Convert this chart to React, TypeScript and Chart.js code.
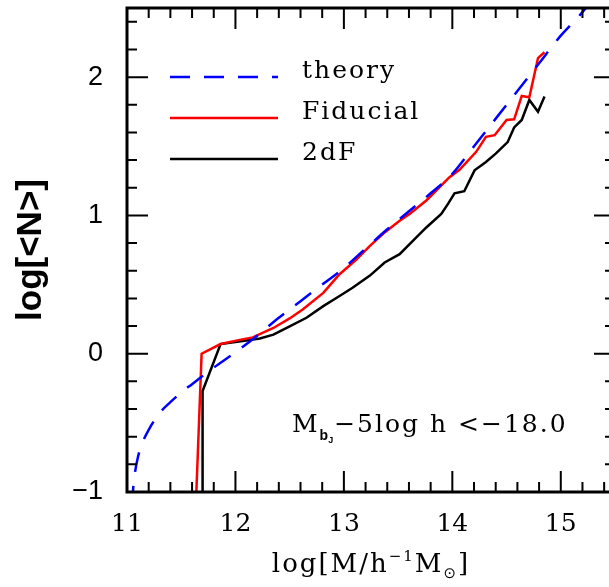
import React, { useEffect, useRef } from "react";
import { Chart, registerables } from "chart.js";

Chart.register(...registerables);

// Halo mass (log M in h^-1 Msun) and mean occupation log<N>
const theoryMass = [11.05, 11.055, 11.07, 11.1, 11.15, 11.2, 11.3, 11.4, 11.5, 11.6, 11.8, 12.0, 12.2, 12.4, 12.6, 12.8, 13.0, 13.2, 13.4, 13.6, 13.8, 14.0, 14.2, 14.4, 14.6, 14.8, 15.0, 15.2, 15.3];
const theoryLogN = [-1.1, -1.0, -0.88, -0.75, -0.63, -0.55, -0.43, -0.35, -0.28, -0.22, -0.1, 0.01, 0.13, 0.26, 0.38, 0.5, 0.62, 0.76, 0.9, 1.03, 1.16, 1.3, 1.5, 1.7, 1.9, 2.1, 2.3, 2.47, 2.57];

const fiducialMass = [11.63, 11.688, 11.863, 12.04, 12.16, 12.35, 12.5, 12.62, 12.81, 12.96, 13.115, 13.24, 13.376, 13.514, 13.606, 13.76, 13.974, 14.066, 14.22, 14.31, 14.39, 14.5, 14.57, 14.64, 14.71, 14.79, 14.85];
const fiducialLogN = [-1.2, 0.0, 0.07, 0.1, 0.118, 0.186, 0.255, 0.32, 0.44, 0.575, 0.68, 0.78, 0.877, 0.962, 1.011, 1.108, 1.277, 1.33, 1.46, 1.568, 1.58, 1.69, 1.695, 1.864, 1.854, 2.138, 2.18];

const twodfMass = [11.697, 11.697, 11.863, 12.1, 12.225, 12.35, 12.5, 12.655, 12.81, 12.96, 13.08, 13.24, 13.376, 13.514, 13.606, 13.76, 13.898, 13.96, 14.02, 14.11, 14.205, 14.31, 14.4, 14.51, 14.57, 14.64, 14.71, 14.79, 14.85];
const twodfLogN = [-1.2, -0.27, 0.07, 0.095, 0.11, 0.138, 0.198, 0.26, 0.344, 0.417, 0.477, 0.565, 0.66, 0.72, 0.793, 0.913, 1.01, 1.084, 1.16, 1.175, 1.326, 1.386, 1.447, 1.53, 1.636, 1.69, 1.835, 1.75, 1.86];

const seriesLabels = ["theory", "Fiducial", "2dF"];
const seriesColors = ["#0000ff", "#ff0000", "#000000"];

const xTickValues = [11, 12, 13, 14, 15];
const yTickValues = [-1, 0, 1, 2];

const serif = '"DejaVu Serif", serif';
const sans = '"Liberation Sans", Arial, sans-serif';

const toPoints = (xs: number[], ys: number[]) => xs.map((x, i) => ({ x, y: ys[i] }));

function spaced(ctx: CanvasRenderingContext2D, px: string) {
  (ctx as any).letterSpacing = px;
}

const decorPlugin = {
  id: "decor",
  beforeDraw(chart: any) {
    const { ctx, width, height } = chart;
    ctx.save();
    ctx.fillStyle = "#ffffff";
    ctx.fillRect(0, 0, width, height);
    ctx.restore();
  },
  afterDraw(chart: any) {
    const { ctx, chartArea: a, scales } = chart;
    const xs = scales.x;
    const ys = scales.y;
    ctx.save();
    ctx.strokeStyle = "#000";
    ctx.lineCap = "butt";
    ctx.setLineDash([]);

    // inward ticks on all four sides
    ctx.lineWidth = 2;
    ctx.beginPath();
    for (let i = 0; i <= 22; i++) {
      const v = 11 + i * 0.2;
      const major = Math.abs(v - Math.round(v)) < 1e-6;
      const len = major ? 21 : 10;
      const p = xs.getPixelForValue(v);
      ctx.moveTo(p, a.bottom);
      ctx.lineTo(p, a.bottom - len);
      ctx.moveTo(p, a.top);
      ctx.lineTo(p, a.top + len);
    }
    for (let i = 0; i <= 17; i++) {
      const v = -1 + i * 0.2;
      const major = Math.abs(v - Math.round(v)) < 1e-6;
      const len = major ? 21 : 10;
      const p = ys.getPixelForValue(v);
      ctx.moveTo(a.left, p);
      ctx.lineTo(a.left + len, p);
      ctx.moveTo(a.right, p);
      ctx.lineTo(a.right - len, p);
    }
    ctx.stroke();

    // frame
    ctx.lineWidth = 3;
    ctx.strokeRect(a.left, a.top, a.right - a.left, a.bottom - a.top);

    // legend
    const legendX0 = a.left + 43;
    const legendX1 = a.left + 151;
    const legendRows = [a.top + 69, a.top + 110, a.top + 151];
    ctx.lineWidth = 2.5;
    seriesLabels.forEach((label, i) => {
      const yy = legendRows[i];
      ctx.strokeStyle = seriesColors[i];
      ctx.setLineDash(i === 0 ? [20, 14] : []);
      ctx.beginPath();
      ctx.moveTo(legendX0, yy);
      ctx.lineTo(legendX1, yy);
      ctx.stroke();
      ctx.setLineDash([]);
      ctx.fillStyle = "#000";
      ctx.font = `25px ${serif}`;
      spaced(ctx, "2px");
      ctx.textAlign = "left";
      ctx.textBaseline = "alphabetic";
      ctx.fillText(label, legendX0 + 132, yy + 1);
      spaced(ctx, "0px");
    });

    // luminosity threshold note
    ctx.fillStyle = "#000";
    ctx.textAlign = "left";
    ctx.textBaseline = "alphabetic";
    let tx = 292;
    const ty = 432;
    ctx.font = `25px ${serif}`;
    spaced(ctx, "2px");
    ctx.fillText("M", tx, ty);
    tx += ctx.measureText("M").width;
    spaced(ctx, "0px");
    ctx.font = `bold 14px ${sans}`;
    ctx.fillText("b", tx, ty + 8);
    tx += ctx.measureText("b").width;
    ctx.font = `bold 9px ${sans}`;
    ctx.fillText("J", tx, ty + 11);
    tx += ctx.measureText("J").width + 1;
    ctx.font = `25px ${serif}`;
    spaced(ctx, "2px");
    ctx.fillText("\u22125log h <\u221218.0", tx, ty);
    spaced(ctx, "0px");

    // x-axis title
    spaced(ctx, "2px");
    const parts: [string, string, number][] = [
      ["log[M/h", `26px ${serif}`, 0],
      ["\u22121", `15px ${serif}`, -11],
      ["M", `26px ${serif}`, 0],
      ["\u2299", `15px "DejaVu Sans", sans-serif`, 6],
      ["]", `26px ${serif}`, 0],
    ];
    let total = 0;
    parts.forEach(([t, f]) => {
      ctx.font = f;
      total += ctx.measureText(t).width;
    });
    let xx = (a.left + a.right) / 2 - total / 2;
    const xb = 572;
    parts.forEach(([t, f, dy]) => {
      ctx.font = f;
      ctx.fillText(t, xx, xb + dy);
      xx += ctx.measureText(t).width;
    });
    spaced(ctx, "0px");

    // y-axis title
    ctx.translate(31, (a.top + a.bottom) / 2);
    ctx.rotate(-Math.PI / 2);
    ctx.font = `bold 35px ${sans}`;
    ctx.textAlign = "center";
    ctx.textBaseline = "middle";
    ctx.fillText("log[<N>]", 0, 0);
    ctx.restore();
  },
};

export default function App() {
  const ref = useRef<HTMLCanvasElement>(null);

  useEffect(() => {
    const canvas = ref.current;
    if (!canvas) return;
    const chart = new Chart(canvas, {
      type: "scatter",
      data: {
        datasets: [
          {
            label: seriesLabels[0],
            data: toPoints(theoryMass, theoryLogN),
            borderColor: seriesColors[0],
            borderWidth: 2.5,
            borderDash: [20, 14],
            showLine: true,
            pointRadius: 0,
            cubicInterpolationMode: "monotone",
          },
          {
            label: seriesLabels[1],
            data: toPoints(fiducialMass, fiducialLogN),
            borderColor: seriesColors[1],
            borderWidth: 2.5,
            showLine: true,
            pointRadius: 0,
            tension: 0,
          },
          {
            label: seriesLabels[2],
            data: toPoints(twodfMass, twodfLogN),
            borderColor: seriesColors[2],
            borderWidth: 2.5,
            showLine: true,
            pointRadius: 0,
            tension: 0,
          },
        ],
      },
      options: {
        animation: false,
        responsive: false,
        devicePixelRatio: 1,
        layout: { padding: { left: 0, right: 25, top: 8, bottom: 0 } },
        plugins: {
          legend: { display: false },
          tooltip: { enabled: false },
        },
        scales: {
          x: {
            type: "linear",
            min: 11,
            max: 15.5,
            grid: { display: false, drawTicks: false },
            border: { display: false },
            ticks: {
              color: "#000",
              font: { family: serif, size: 25 },
              padding: 17,
              maxRotation: 0,
              autoSkip: false,
            },
            afterBuildTicks: (s: any) => {
              s.ticks = xTickValues.map((v) => ({ value: v }));
            },
            afterFit: (s: any) => {
              s.height = 95;
              s.paddingLeft = 0;
              s.paddingRight = 0;
            },
          },
          y: {
            type: "linear",
            min: -1,
            max: 2.5,
            grid: { display: false, drawTicks: false },
            border: { display: false },
            ticks: {
              color: "#000",
              font: { family: sans, size: 27 },
              padding: 24,
              autoSkip: false,
              callback: (v: any) => (Number(v) < 0 ? "\u2212" + Math.abs(Number(v)) : String(v)),
            },
            afterBuildTicks: (s: any) => {
              s.ticks = yTickValues.map((v) => ({ value: v }));
            },
            afterFit: (s: any) => {
              s.width = 127;
              s.paddingTop = 0;
              s.paddingBottom = 0;
            },
          },
        },
      },
      plugins: [decorPlugin],
    } as any);
    return () => chart.destroy();
  }, []);

  return (
    <div
      style={{
        position: "absolute",
        left: 0,
        top: 0,
        width: 609,
        height: 587,
        overflow: "hidden",
        background: "#fff",
      }}
    >
      <canvas ref={ref} width={640} height={587} style={{ display: "block", width: 640, height: 587 }} />
    </div>
  );
}
